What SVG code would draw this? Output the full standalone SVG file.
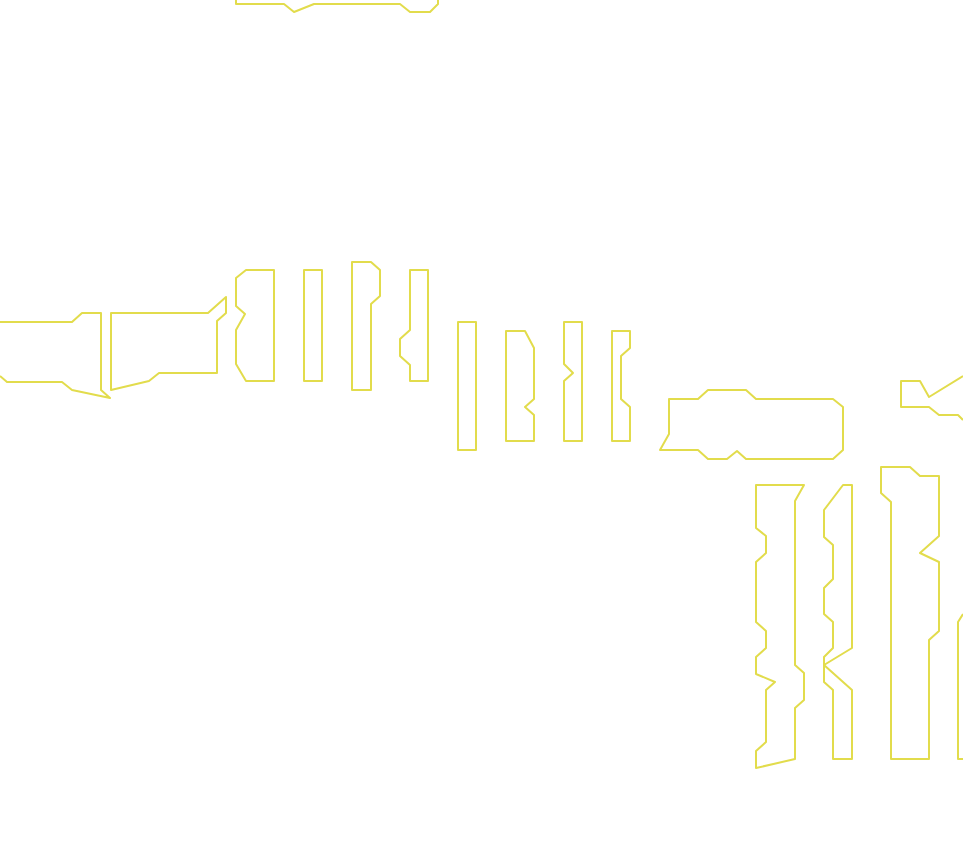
<svg xmlns="http://www.w3.org/2000/svg" width="963" height="858" viewBox="0 0 963 858">
<style>.s{fill:none;stroke:#e2dc4c;stroke-width:2;stroke-linejoin:round}</style>
<rect width="963" height="858" fill="#fff"/>
<polyline class="s" points="236,0 236,4 284,4 294,12 314,4 400,4 410,12 430,12 438,4 438,0"/>
<polyline class="s" points="0,322 72,322 82,313 101,313 101,390 110,398 72,390 62,382 7,382 0,376"/>
<polygon class="s" points="111,313 208,313 226,297 226,313 217,321 217,373 159,373 149,381 111,390"/>
<polygon class="s" points="246,270 274,270 274,381 246,381 236,364 236,330 245,314 236,306 236,278"/>
<rect class="s" x="304" y="270" width="18" height="111"/>
<polygon class="s" points="352,262 371,262 380,270 380,296 371,304 371,390 352,390"/>
<polygon class="s" points="410,270 428,270 428,381 410,381 410,365 400,356 400,339 410,330"/>
<rect class="s" x="458" y="322" width="18" height="128"/>
<polygon class="s" points="506,331 525,331 534,348 534,399 525,407 534,415 534,441 506,441"/>
<polygon class="s" points="564,322 582,322 582,441 564,441 564,381 573,373 564,364"/>
<polygon class="s" points="612,331 630,331 630,348 621,356 621,399 630,407 630,441 612,441"/>
<polygon class="s" points="669,399 698,399 708,390 746,390 756,399 833,399 843,407 843,450 833,459 746,459 737,451 727,459 708,459 698,450 660,450 669,434"/>
<polyline class="s" points="963,376 929,397 920,381 901,381 901,407 929,407 939,415 958,415 963,420"/>
<polygon class="s" points="756,485 804,485 795,501 795,665 804,673 804,700 795,708 795,759 756,768 756,751 766,742 766,690 775,682 756,674 756,657 766,648 766,631 756,622 756,562 766,553 766,536 756,528"/>
<polygon class="s" points="843,485 852,485 852,648 824,665 852,690 852,759 833,759 833,690 824,682 824,657 833,648 833,622 824,614 824,588 833,579 833,545 824,537 824,510"/>
<polygon class="s" points="881,467 910,467 920,476 939,476 939,536 920,553 939,562 939,631 929,640 929,759 891,759 891,502 881,493"/>
<polyline class="s" points="963,614 958,622 958,759 963,759"/>
</svg>
